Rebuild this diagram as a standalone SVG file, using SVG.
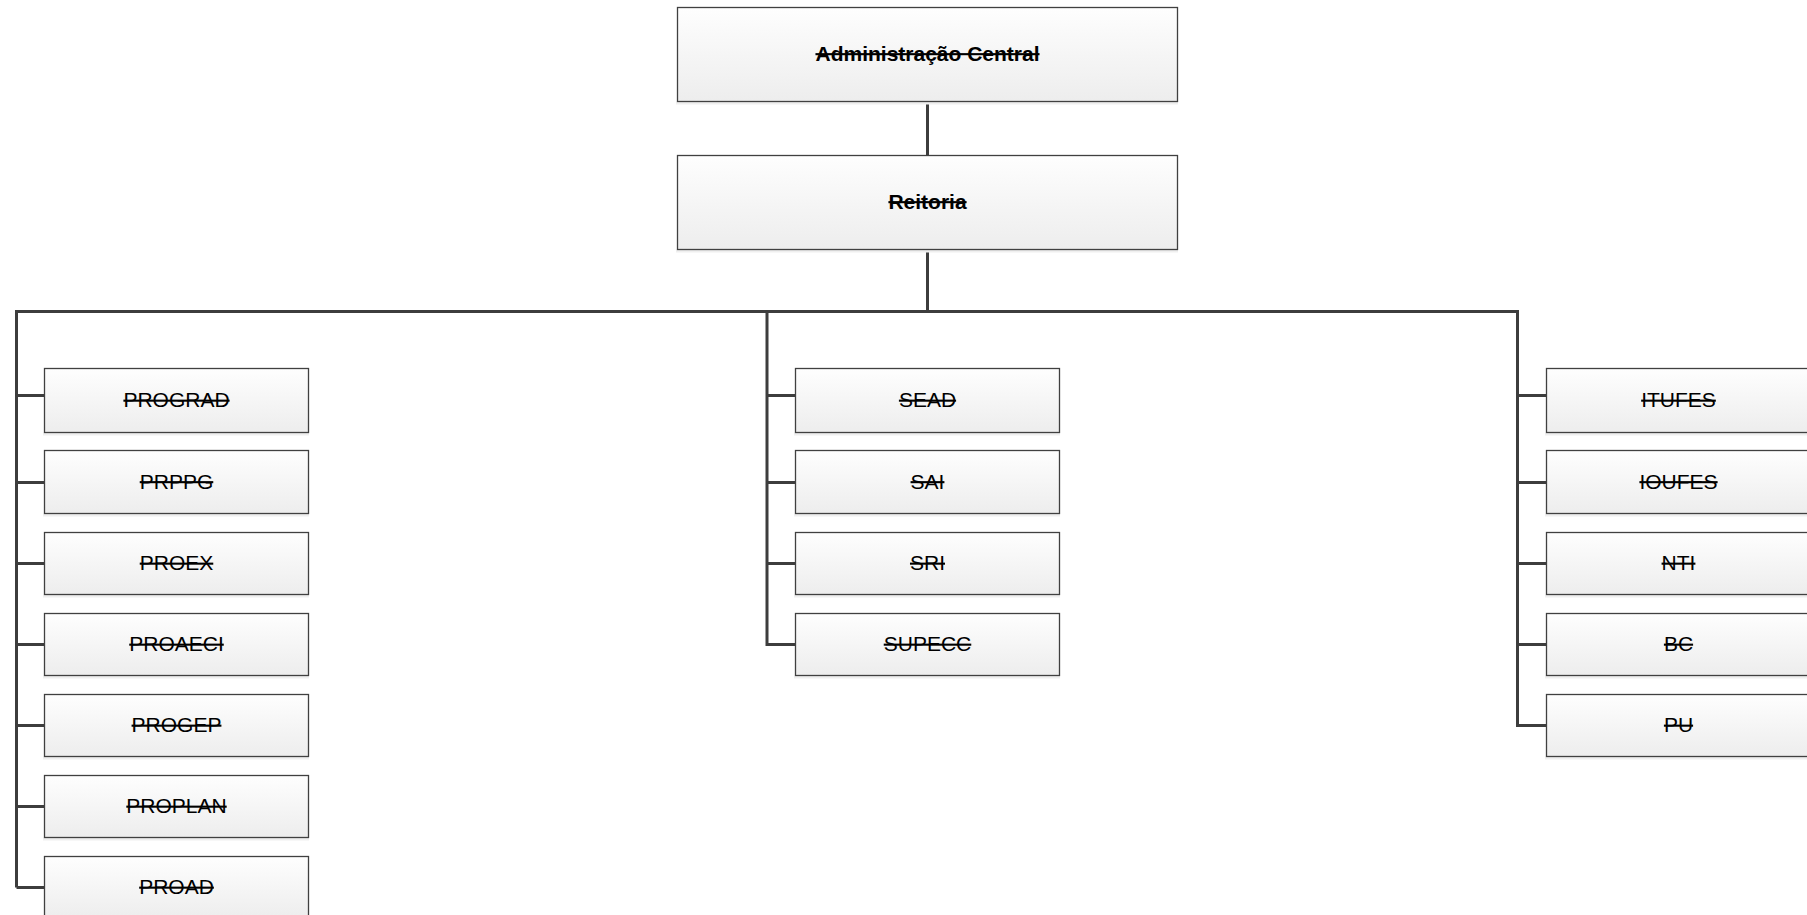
<svg xmlns="http://www.w3.org/2000/svg" width="1807" height="915" viewBox="0 0 1807 915">
<defs>
<linearGradient id="g" x1="0" y1="0" x2="0" y2="1">
<stop offset="0" stop-color="#fefefe"/>
<stop offset="1" stop-color="#ededed"/>
</linearGradient>
<style>
.box{fill:url(#g);stroke:#404040;stroke-width:1.3}
.sh{fill:#efefef}
.t{font-family:"Liberation Sans",Arial,sans-serif;font-size:21px;fill:#000;text-anchor:middle;text-decoration:line-through}
.b{font-weight:bold}
.c{fill:none;stroke:#3d3d3d;stroke-width:3;stroke-linejoin:miter}
</style>
</defs>
<rect width="1807" height="915" fill="#fff"/>
<g id="connectors">
<path class="c" d="M927.5 101 V155"/>
<path class="c" d="M927.5 249 V311.5"/>
<path class="c" d="M16.5 887.5 V311.5 H1517.5 V725.5 H1546"/>
<path class="c" d="M16.5 887.5 H44"/>
<path class="c" d="M767 311.5 V644.5 H795"/>
<path class="c" d="M16.5 395.5 H44 M16.5 482.5 H44 M16.5 563.5 H44 M16.5 644.5 H44 M16.5 725.5 H44 M16.5 806.5 H44"/>
<path class="c" d="M767 395.5 H795 M767 482.5 H795 M767 563.5 H795"/>
<path class="c" d="M1517.5 395.5 H1546 M1517.5 482.5 H1546 M1517.5 563.5 H1546 M1517.5 644.5 H1546"/>
</g>
<g id="admin"><rect class="sh" x="676" y="101.5" width="502" height="3"/><rect class="box" x="677.5" y="7.5" width="500" height="94"/><text class="t b" x="927.5" y="60.5">Administração Central</text></g>
<g id="reitoria"><rect class="sh" x="676" y="249.5" width="502" height="3"/><rect class="box" x="677.5" y="155.5" width="500" height="94"/><text class="t b" x="927.5" y="208.5">Reitoria</text></g>

<g id="prograd"><rect class="sh" x="43" y="432.5" width="266" height="3"/><rect class="box" x="44.5" y="368.5" width="264" height="64"/><text class="t" x="176.5" y="407">PROGRAD</text></g>
<g id="prppg"><rect class="sh" x="43" y="513.5" width="266" height="3"/><rect class="box" x="44.5" y="450.5" width="264" height="63"/><text class="t" x="176.5" y="488.5">PRPPG</text></g>
<g id="proex"><rect class="sh" x="43" y="594.5" width="266" height="3"/><rect class="box" x="44.5" y="532.5" width="264" height="62"/><text class="t" x="176.5" y="570">PROEX</text></g>
<g id="proaeci"><rect class="sh" x="43" y="675.5" width="266" height="3"/><rect class="box" x="44.5" y="613.5" width="264" height="62"/><text class="t" x="176.5" y="651">PROAECI</text></g>
<g id="progep"><rect class="sh" x="43" y="756.5" width="266" height="3"/><rect class="box" x="44.5" y="694.5" width="264" height="62"/><text class="t" x="176.5" y="732">PROGEP</text></g>
<g id="proplan"><rect class="sh" x="43" y="837.5" width="266" height="3"/><rect class="box" x="44.5" y="775.5" width="264" height="62"/><text class="t" x="176.5" y="813">PROPLAN</text></g>
<g id="proad"><rect class="box" x="44.5" y="856.5" width="264" height="62"/><text class="t" x="176.5" y="894">PROAD</text></g>

<g id="sead"><rect class="sh" x="794" y="432.5" width="266" height="3"/><rect class="box" x="795.5" y="368.5" width="264" height="64"/><text class="t" x="927.5" y="407">SEAD</text></g>
<g id="sai"><rect class="sh" x="794" y="513.5" width="266" height="3"/><rect class="box" x="795.5" y="450.5" width="264" height="63"/><text class="t" x="927.5" y="488.5">SAI</text></g>
<g id="sri"><rect class="sh" x="794" y="594.5" width="266" height="3"/><rect class="box" x="795.5" y="532.5" width="264" height="62"/><text class="t" x="927.5" y="570">SRI</text></g>
<g id="supecc"><rect class="sh" x="794" y="675.5" width="266" height="3"/><rect class="box" x="795.5" y="613.5" width="264" height="62"/><text class="t" x="927.5" y="651">SUPECC</text></g>

<g id="itufes"><rect class="sh" x="1545" y="432.5" width="266" height="3"/><rect class="box" x="1546.5" y="368.5" width="264" height="64"/><text class="t" x="1678.5" y="407">ITUFES</text></g>
<g id="ioufes"><rect class="sh" x="1545" y="513.5" width="266" height="3"/><rect class="box" x="1546.5" y="450.5" width="264" height="63"/><text class="t" x="1678.5" y="488.5">IOUFES</text></g>
<g id="nti"><rect class="sh" x="1545" y="594.5" width="266" height="3"/><rect class="box" x="1546.5" y="532.5" width="264" height="62"/><text class="t" x="1678.5" y="570">NTI</text></g>
<g id="bc"><rect class="sh" x="1545" y="675.5" width="266" height="3"/><rect class="box" x="1546.5" y="613.5" width="264" height="62"/><text class="t" x="1678.5" y="651">BC</text></g>
<g id="pu"><rect class="sh" x="1545" y="756.5" width="266" height="3"/><rect class="box" x="1546.5" y="694.5" width="264" height="62"/><text class="t" x="1678.5" y="732">PU</text></g>
</svg>
